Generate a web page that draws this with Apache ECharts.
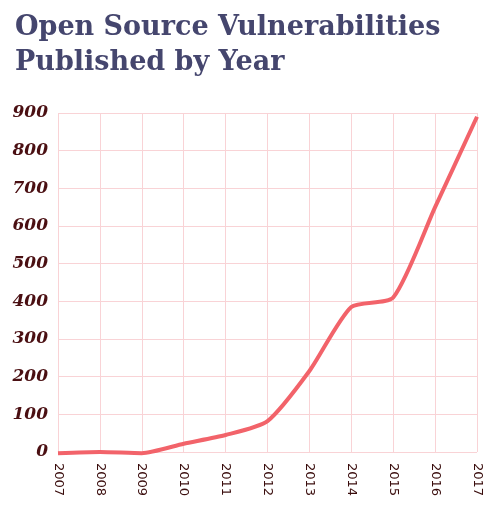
<!DOCTYPE html>
<html>
<head>
<meta charset="utf-8">
<script src="https://cdn.jsdelivr.net/npm/echarts@6/dist/echarts.min.js"></script>
<style>
html,body{margin:0;padding:0;background:#fff;}
#chart{width:500px;height:513px;}
</style>
</head>
<body>
<div id="chart"></div>
<script>
var years = ['2007','2008','2009','2010','2011','2012','2013','2014','2015','2016','2017'];
var vulnerabilities = [-3, 0, -3, 22, 45, 82, 215, 385, 410, 650, 890];
var yTicks = [0, 100, 200, 300, 400, 500, 600, 700, 800, 900];
var titleLines = ['Open Source Vulnerabilities', 'Published by Year'];

var chart = echarts.init(document.getElementById('chart'));
chart.setOption({
  animation: false,
  backgroundColor: '#ffffff',
  title: {
    text: titleLines.join('\n'),
    left: 10,
    top: 5,
    textStyle: {
      fontFamily: 'DejaVu Serif',
      fontWeight: 'bold',
      fontSize: 27,
      lineHeight: 35,
      color: '#45466e'
    }
  },
  grid: { left: 58, right: 23, top: 113, bottom: 61 },
  xAxis: {
    type: 'category',
    data: years,
    boundaryGap: false,
    axisLine: { show: false },
    axisTick: { show: false },
    axisLabel: {
      rotate: -90,
      margin: 11,
      fontFamily: 'DejaVu Sans',
      fontSize: 13,
      color: '#3a0d0d'
    },
    splitLine: { show: true, lineStyle: { color: '#f9d3d6', width: 1 } }
  },
  yAxis: {
    type: 'value',
    min: yTicks[0],
    max: yTicks[yTicks.length - 1],
    interval: 100,
    axisLine: { show: false },
    axisTick: { show: false },
    axisLabel: {
      margin: 10,
      fontFamily: 'DejaVu Serif',
      fontWeight: 'bold',
      fontStyle: 'italic',
      fontSize: 17,
      color: '#4a0f12'
    },
    splitLine: { show: true, lineStyle: { color: '#f9d3d6', width: 1 } }
  },
  series: [{
    type: 'line',
    data: vulnerabilities,
    smooth: 0.22,
    clip: false,
    showSymbol: false,
    symbol: 'none',
    lineStyle: { color: '#f2636a', width: 4 }
  }]
});
</script>
</body>
</html>
